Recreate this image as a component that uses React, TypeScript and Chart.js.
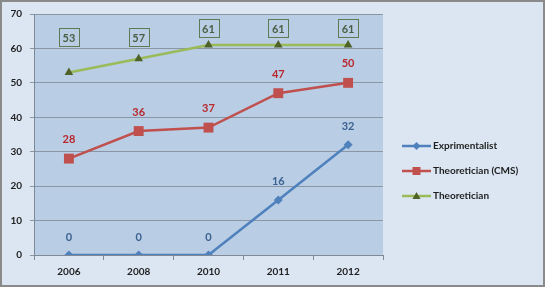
import React, { useEffect, useRef } from "react";
import { Chart, registerables } from "chart.js";

Chart.register(...registerables);

const years = ["2006", "2008", "2010", "2011", "2012"];
const exprimentalist = [0, 0, 0, 16, 32];
const theoreticianCMS = [28, 36, 37, 47, 50];
const theoretician = [53, 57, 61, 61, 61];
const yTicks = [0, 10, 20, 30, 40, 50, 60, 70];

const FONT = "Lato, 'Open Sans', sans-serif";

const BLUE = "#4f81bd";
const RED = "#c0504d";
const GREEN = "#9bbb59";
const GREEN_DARK = "#4f6228";

const bgPlugin = {
  id: "bg",
  beforeDraw(chart: any) {
    const { ctx, width, height, chartArea } = chart;
    ctx.save();
    ctx.fillStyle = "#dce6f2";
    ctx.fillRect(0, 0, width, height);
    ctx.strokeStyle = "#8a8a8a";
    ctx.lineWidth = 2;
    ctx.strokeRect(1, 1, width - 2, height - 2);
    ctx.fillStyle = "#b9cde5";
    ctx.fillRect(chartArea.left, chartArea.top, chartArea.right - chartArea.left, chartArea.bottom - chartArea.top);
    ctx.restore();
  },
};

const labelPlugin = {
  id: "labels",
  afterDatasetsDraw(chart: any) {
    const { ctx, chartArea } = chart;
    ctx.save();
    ctx.font = `bold 11px ${FONT}`;
    ctx.textAlign = "center";
    ctx.textBaseline = "middle";
    chart.data.datasets.forEach((ds: any, i: number) => {
      const meta = chart.getDatasetMeta(i);
      meta.data.forEach((pt: any, j: number) => {
        const v = ds.data[j];
        if (i === 0) {
          ctx.fillStyle = "#3b6190";
          ctx.fillText(String(v), pt.x, pt.y - 18);
        } else if (i === 1) {
          ctx.fillStyle = "#b8282c";
          ctx.fillText(String(v), pt.x, pt.y - 19);
        } else {
          const cy = Math.min(pt.y - 17, chartArea.top + 23);
          ctx.strokeStyle = "#5d7a55";
          ctx.lineWidth = 1;
          ctx.strokeRect(Math.round(pt.x - 10) + 0.5, Math.round(cy - 9) + 0.5, 20, 18);
          ctx.fillStyle = "#4a5f45";
          ctx.fillText(String(v), pt.x, cy + 1);
        }
      });
    });
    ctx.restore();
  },
};

const legendPlugin = {
  id: "customLegend",
  afterDraw(chart: any) {
    const { ctx } = chart;
    const items = [
      { label: "Exprimentalist", color: BLUE, marker: "diamond", mcolor: BLUE, y: 146 },
      { label: "Theoretician (CMS)", color: RED, marker: "square", mcolor: RED, y: 171 },
      { label: "Theoretician", color: GREEN, marker: "triangle", mcolor: GREEN_DARK, y: 196 },
    ];
    ctx.save();
    items.forEach((it) => {
      ctx.strokeStyle = it.color;
      ctx.lineWidth = 2.5;
      ctx.beginPath();
      ctx.moveTo(402, it.y);
      ctx.lineTo(431, it.y);
      ctx.stroke();
      ctx.fillStyle = it.mcolor;
      const cx = 416.5;
      ctx.beginPath();
      if (it.marker === "diamond") {
        ctx.moveTo(cx, it.y - 4);
        ctx.lineTo(cx + 4, it.y);
        ctx.lineTo(cx, it.y + 4);
        ctx.lineTo(cx - 4, it.y);
      } else if (it.marker === "square") {
        ctx.rect(cx - 4, it.y - 4, 8, 8);
      } else {
        ctx.moveTo(cx, it.y - 4);
        ctx.lineTo(cx + 4, it.y + 3);
        ctx.lineTo(cx - 4, it.y + 3);
      }
      ctx.closePath();
      ctx.fill();
      ctx.fillStyle = "#1e1e1e";
      ctx.font = `bold 10px ${FONT}`;
      ctx.textAlign = "left";
      ctx.textBaseline = "middle";
      ctx.fillText(it.label, 433, it.y);
    });
    ctx.restore();
  },
};

export default function App() {
  const ref = useRef<HTMLCanvasElement | null>(null);
  useEffect(() => {
    document.body.style.margin = "0";
    const canvas = ref.current!;
    const chart = new Chart(canvas, {
      type: "line",
      data: {
        labels: years,
        datasets: [
          {
            label: "Exprimentalist",
            data: exprimentalist,
            borderColor: BLUE,
            backgroundColor: BLUE,
            borderWidth: 2.5,
            pointStyle: "rectRot",
            pointRadius: 4.5,
            pointBorderWidth: 0,
            tension: 0,
          },
          {
            label: "Theoretician (CMS)",
            data: theoreticianCMS,
            borderColor: RED,
            backgroundColor: RED,
            borderWidth: 2.5,
            pointStyle: "rect",
            pointRadius: 7,
            pointBorderWidth: 0,
            tension: 0,
          },
          {
            label: "Theoretician",
            data: theoretician,
            borderColor: GREEN,
            backgroundColor: GREEN_DARK,
            borderWidth: 2.5,
            pointStyle: "triangle",
            pointRadius: 5,
            pointBorderWidth: 0,
            tension: 0,
          },
        ],
      },
      options: {
        animation: false,
        responsive: false,
        maintainAspectRatio: false,
        devicePixelRatio: 1,
        layout: { padding: { top: 14, right: 162, left: 0, bottom: 0 } },
        plugins: { legend: { display: false }, tooltip: { enabled: false } },
        scales: {
          x: {
            offset: true,
            grid: {
              drawOnChartArea: false,
              drawTicks: true,
              tickLength: 5,
              color: "#7f8a96",
              offset: true,
            },
            border: { color: "#7f8a96", width: 1 },
            ticks: { font: { family: FONT, size: 10, weight: "bold" }, color: "#222", padding: 6, maxRotation: 0 },
            afterFit(scale: any) {
              scale.height = 32;
            },
          },
          y: {
            min: 0,
            max: 70,
            afterBuildTicks(scale: any) {
              scale.ticks = yTicks.map((v) => ({ value: v }));
            },
            grid: { color: "#8a96a3", tickLength: 4, lineWidth: 1 },
            border: { color: "#7f8a96", width: 1 },
            ticks: { font: { family: FONT, size: 10, weight: "bold" }, color: "#222", padding: 8 },
            afterFit(scale: any) {
              scale.width = 34;
            },
          },
        },
      },
      plugins: [bgPlugin, labelPlugin, legendPlugin],
    } as any);
    return () => chart.destroy();
  }, []);
  return <canvas ref={ref} width={545} height={287} style={{ display: "block" }} />;
}
